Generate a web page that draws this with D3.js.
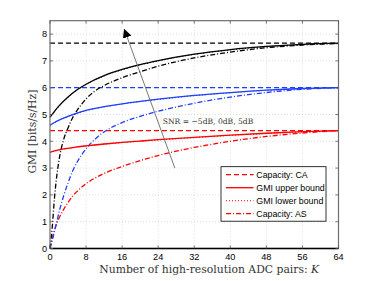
<!DOCTYPE html>
<html>
<head>
<meta charset="utf-8">
<script src="https://cdn.jsdelivr.net/npm/d3@7"></script>
<style>
  body { margin: 0; background: #fff; }
  svg { display: block; }
</style>
</head>
<body>
<div id="chart"></div>
<script>
const width = 374;
const height = 281;

// chart data
const xTicks = [0, 8, 16, 24, 32, 40, 48, 56, 64];
const yTicks = [0, 1, 2, 3, 4, 5, 6, 7, 8];

const capCA = [4.40, 6.00, 7.66]; // -5dB, 0dB, 5dB

const kUpper = [0, 1, 2, 4, 6, 8, 12, 16, 20, 24, 32, 40, 48, 56, 64];
const upperM5 = [3.59, 3.64, 3.68, 3.74, 3.79, 3.83, 3.90, 3.96, 4.01, 4.06, 4.15, 4.23, 4.30, 4.36, 4.40];
const upper0 = [4.60, 4.70, 4.79, 4.93, 5.05, 5.15, 5.29, 5.40, 5.49, 5.57, 5.71, 5.82, 5.91, 5.97, 6.00];
const upper5 = [4.90, 5.12, 5.32, 5.65, 5.92, 6.13, 6.45, 6.68, 6.86, 7.01, 7.25, 7.42, 7.54, 7.62, 7.66];

const lowerM5 = [3.58, 3.63, 3.67, 3.73, 3.78, 3.82, 3.89, 3.95, 4.00, 4.05, 4.14, 4.22, 4.29, 4.35, 4.39];
const lower0 = [4.59, 4.69, 4.78, 4.92, 5.04, 5.14, 5.28, 5.39, 5.48, 5.56, 5.70, 5.81, 5.90, 5.96, 5.99];
const lower5 = [4.89, 5.11, 5.31, 5.64, 5.91, 6.12, 6.44, 6.67, 6.85, 7.00, 7.24, 7.41, 7.53, 7.61, 7.65];

const kAS = [0, 0.5, 1, 1.5, 2, 3, 4, 5, 6, 8, 10, 12, 16, 20, 24, 28, 32, 40, 48, 56, 64];
const asM5 = [0, 0.38, 0.68, 0.93, 1.13, 1.45, 1.72, 1.95, 2.13, 2.42, 2.63, 2.80, 3.06, 3.28, 3.47, 3.63, 3.77, 4.00, 4.18, 4.31, 4.40];
const as0 = [0, 0.30, 0.65, 1.00, 1.35, 1.95, 2.45, 2.88, 3.22, 3.72, 4.08, 4.35, 4.70, 4.93, 5.12, 5.28, 5.42, 5.65, 5.82, 5.94, 6.00];
const as5 = [0, 0.80, 1.90, 2.70, 3.30, 4.05, 4.50, 4.87, 5.15, 5.58, 5.88, 6.08, 6.37, 6.60, 6.80, 6.97, 7.11, 7.33, 7.49, 7.59, 7.65];

const snrColors = ["#ff0000", "#1f3fff", "#000000"];
const legendLabels = ["Capacity: CA", "GMI upper bound", "GMI lower bound", "Capacity: AS"];
const snrText = "SNR = \u22125dB, 0dB, 5dB";

const plot = { left: 50, right: 338.5, top: 20.7, bottom: 248.5 };

const x = d3.scaleLinear().domain([0, 64]).range([plot.left, plot.right]);
const y = d3.scaleLinear().domain([0, 8.5]).range([plot.bottom, plot.top]);

const svg = d3.select("#chart").append("svg")
    .attr("width", width)
    .attr("height", height);

// grid
const grid = svg.append("g")
    .attr("stroke", "#c8c8c8")
    .attr("stroke-width", 0.6)
    .attr("stroke-dasharray", "1,2");
grid.selectAll("line.gx").data(xTicks.slice(1, -1)).join("line")
    .attr("x1", d => x(d)).attr("x2", d => x(d))
    .attr("y1", plot.top).attr("y2", plot.bottom);
grid.selectAll("line.gy").data(yTicks.slice(1)).join("line")
    .attr("x1", plot.left).attr("x2", plot.right)
    .attr("y1", d => y(d)).attr("y2", d => y(d));

const line = d3.line().x(d => x(d[0])).y(d => y(d[1])).curve(d3.curveMonotoneX);
const zip = (ks, vs) => ks.map((k, i) => [k, vs[i]]);

const curves = svg.append("g").attr("fill", "none").attr("stroke-width", 1.3);

// capacity: CA (dashed horizontal)
capCA.forEach((v, i) => {
    curves.append("path")
        .attr("d", line([[0, v], [64, v]]))
        .attr("stroke", snrColors[i])
        .attr("stroke-dasharray", "5,3");
});

// capacity: AS (dash-dot)
[asM5, as0, as5].forEach((vals, i) => {
    curves.append("path")
        .attr("d", line(zip(kAS, vals)))
        .attr("stroke", snrColors[i])
        .attr("stroke-dasharray", "5,2,1,2");
});

// GMI upper bound (solid)
[upperM5, upper0, upper5].forEach((vals, i) => {
    curves.append("path")
        .attr("d", line(zip(kUpper, vals)))
        .attr("stroke", snrColors[i]);
});

// GMI lower bound (dotted)
[lowerM5, lower0, lower5].forEach((vals, i) => {
    curves.append("path")
        .attr("d", line(zip(kUpper, vals)))
        .attr("stroke", snrColors[i])
        .attr("stroke-width", 1)
        .attr("stroke-dasharray", "1,2");
});

// axes box
const axisG = svg.append("g");
axisG.append("rect")
    .attr("x", plot.left).attr("y", plot.top)
    .attr("width", plot.right - plot.left).attr("height", plot.bottom - plot.top)
    .attr("fill", "none").attr("stroke", "#6e6e6e").attr("stroke-width", 1.2);
axisG.append("line")
    .attr("x1", plot.left).attr("x2", plot.right)
    .attr("y1", plot.bottom).attr("y2", plot.bottom)
    .attr("stroke", "#000").attr("stroke-width", 1.4);

// ticks (inward, both sides)
const tk = svg.append("g").attr("stroke", "#555").attr("stroke-width", 0.8);
tk.selectAll("line.xb").data(xTicks).join("line")
    .attr("x1", d => x(d)).attr("x2", d => x(d))
    .attr("y1", plot.bottom).attr("y2", plot.bottom - 3);
tk.selectAll("line.xt").data(xTicks).join("line")
    .attr("x1", d => x(d)).attr("x2", d => x(d))
    .attr("y1", plot.top).attr("y2", plot.top + 3);
tk.selectAll("line.yl").data(yTicks).join("line")
    .attr("x1", plot.left).attr("x2", plot.left + 3)
    .attr("y1", d => y(d)).attr("y2", d => y(d));
tk.selectAll("line.yr").data(yTicks).join("line")
    .attr("x1", plot.right).attr("x2", plot.right - 3)
    .attr("y1", d => y(d)).attr("y2", d => y(d));

const sans = "'Liberation Sans', Arial, sans-serif";
const serif = "'DejaVu Serif', 'Liberation Serif', serif";

svg.append("g").selectAll("text").data(xTicks).join("text")
    .attr("x", d => x(d)).attr("y", 259.5)
    .attr("text-anchor", "middle")
    .attr("font-family", sans).attr("font-size", 9.2)
    .text(d => d);

svg.append("g").selectAll("text").data(yTicks).join("text")
    .attr("x", 47).attr("y", d => y(d) + 3.3)
    .attr("text-anchor", "end")
    .attr("font-family", sans).attr("font-size", 9.2)
    .text(d => d);

// axis labels
const xl = svg.append("text")
    .attr("x", (plot.left + plot.right) / 2 + 15).attr("y", 272.5)
    .attr("text-anchor", "middle")
    .attr("font-family", serif).attr("font-size", 10.8)
    .attr("fill", "#333");
xl.append("tspan").text("Number of high-resolution ADC pairs: ");
xl.append("tspan").attr("font-style", "italic").text("K");

svg.append("text")
    .attr("transform", `translate(36,${(plot.top + plot.bottom) / 2 - 3}) rotate(-90)`)
    .attr("text-anchor", "middle")
    .attr("font-family", serif).attr("font-size", 10.8)
    .attr("fill", "#333")
    .text("GMI [bits/s/Hz]");

// arrow annotation
svg.append("defs").append("marker")
    .attr("id", "head")
    .attr("viewBox", "0 0 10 10")
    .attr("refX", 9).attr("refY", 5)
    .attr("markerWidth", 9).attr("markerHeight", 9)
    .attr("markerUnits", "userSpaceOnUse")
    .attr("orient", "auto")
    .append("path").attr("d", "M0,0 L10,5 L0,10 z").attr("fill", "#000");

svg.append("line")
    .attr("x1", x(27.7)).attr("y1", y(3.0))
    .attr("x2", x(16.5)).attr("y2", y(8.17))
    .attr("stroke", "#555").attr("stroke-width", 0.8)
    .attr("marker-end", "url(#head)");

svg.append("text")
    .attr("x", 162.7).attr("y", 124)
    .attr("font-family", serif).attr("font-size", 7.6)
    .attr("fill", "#333")
    .text(snrText);

// legend
const lg = svg.append("g");
lg.append("rect")
    .attr("x", 221).attr("y", 166.7)
    .attr("width", 105).attr("height", 54.5)
    .attr("fill", "#fff").attr("stroke", "#000").attr("stroke-width", 0.8);
const dashes = ["5,3", null, "1,2", "5,2,1,2"];
legendLabels.forEach((lab, i) => {
    const yy = 174.7 + i * 13;
    lg.append("line")
        .attr("x1", 226).attr("x2", 253.5)
        .attr("y1", yy).attr("y2", yy)
        .attr("stroke", snrColors[0]).attr("stroke-width", i === 2 ? 1 : 1.3)
        .attr("stroke-dasharray", dashes[i]);
    lg.append("text")
        .attr("x", 256.3).attr("y", yy + 3.1)
        .attr("font-family", sans).attr("font-size", 8.8)
        .text(lab);
});
</script>
</body>
</html>
